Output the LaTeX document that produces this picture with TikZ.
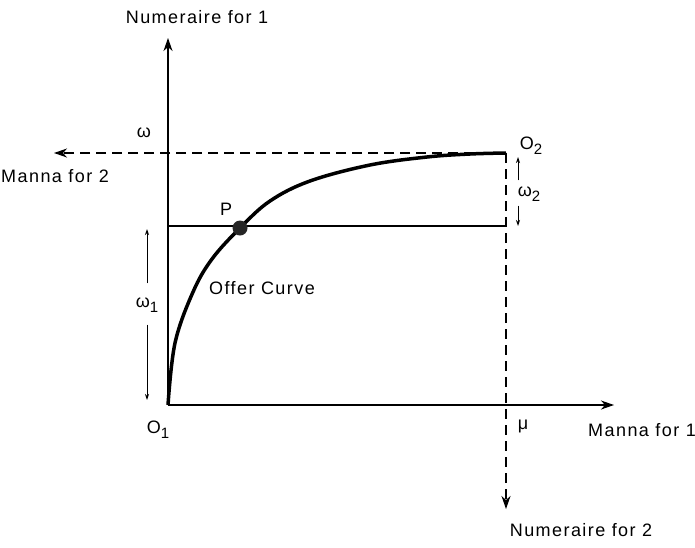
\documentclass[tikz,border=0pt]{standalone}
\usepackage{fontspec}
\setmainfont{Liberation Sans}[LetterSpace=8]
\usetikzlibrary{arrows.meta}
\newcommand{\sbs}[1]{\raisebox{-0.55ex}{\fontsize{15}{15}\selectfont #1}}
\begin{document}
\begin{tikzpicture}[x=1pt,y=-1pt,
  lab/.style={inner sep=0pt, font=\fontsize{18}{20}\selectfont},
  axis/.style={line width=1.2pt, -{Stealth[length=13pt,width=9pt,inset=4pt]}},
  daxis/.style={axis, dash pattern=on 10pt off 6pt},
  smallarr/.style={line width=0.9pt, -{Stealth[length=6pt,width=4pt]}},
  offer/.style={line width=3.5pt},
  thin/.style={line width=1.2pt}]
\useasboundingbox (0,0) rectangle (695,547);
\coordinate (O1) at (168,405);
\coordinate (O2) at (506,153);
\coordinate (Ytop) at (168,38);
\coordinate (Xend) at (614,405);
\coordinate (Lend) at (54,153);
\coordinate (Dend) at (506,509);
\coordinate (Hl) at (168,226);
\coordinate (Hr) at (506,226);
% axes
\draw[axis] (O1) -- (Ytop);
\draw[axis] (O1) -- (Xend);
\draw[daxis] (O2) -- (Lend);
\draw[daxis] (O2) -- (Dend);
\draw[thin] (Hl) -- (Hr);
% offer curve
\draw[offer] plot[smooth, tension=0.6] coordinates {(168,405) (175,343) (193,292) (212,259) (240,228) (270,201) (310,181) (370,165) (427,157) (470,154) (506,153)};
\fill[black!85] (240,228) circle (7.5pt);
% labels
\node[lab] (n1) at (197,17) {Numeraire for 1};
\node[lab] (n2) at (581,530) {Numeraire for 2};
\node[lab] (m1) at (642,430) {Manna for 1};
\node[lab] (m2) at (55,176) {Manna for 2};
\node[lab] (om) at (144,133) {ω};
\node[lab] (mu) at (523,426) {μ};
\node[lab] (o1) at (158,430) {O\sbs{1}};
\node[lab] (o2) at (531,146) {O\sbs{2}};
\node[lab] (pl) at (226,209) {P};
\node[lab] (oc) at (262,288) {Offer Curve};
\node[lab] (w1) at (147,305) {ω\sbs{1}};
\node[lab] (w2) at (529,194) {ω\sbs{2}};
% omega arrows
\coordinate (w1u) at (147,229);
\coordinate (w1d) at (147,400);
\coordinate (w2u) at (518,157);
\coordinate (w2d) at (518,226);
\draw[smallarr] (w1.north -| w1u) ++(0,-14) -- (w1u);
\draw[smallarr] (w1.south -| w1d) ++(0,12) -- (w1d);
\draw[smallarr] (w2.north -| w2u) ++(0,-6) -- (w2u);
\draw[smallarr] (w2.south -| w2d) ++(0,4) -- (w2d);
\end{tikzpicture}
\end{document}
